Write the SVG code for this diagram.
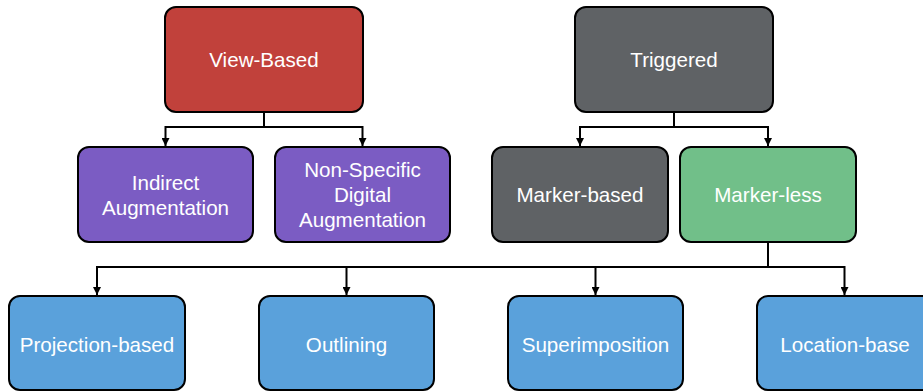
<svg xmlns="http://www.w3.org/2000/svg" width="923" height="392" viewBox="0 0 923 392">
  <defs>
    <marker id="arrow" viewBox="0 0 10 10" refX="10" refY="5" markerWidth="8" markerHeight="8" markerUnits="userSpaceOnUse" orient="auto">
      <path d="M0,0 L10,5 L0,10 Z" fill="#000"/>
    </marker>
    <style>
      .box { stroke: #000; stroke-width: 2; }
      .red { fill: #c1413b; }
      .purple { fill: #7b5cc3; }
      .gray { fill: #5f6265; }
      .green { fill: #71bf89; }
      .blue { fill: #5aa1db; }
      .label { font-family: "Liberation Sans", Arial, Helvetica, sans-serif; font-size: 20.6px; fill: #fff; text-anchor: middle; }
      .edge { fill: none; stroke: #000; stroke-width: 2; }
    </style>
  </defs>
  <rect width="923" height="392" fill="#fff"/>

  <!-- connectors -->
  <g id="connectors">
    <path class="edge" d="M264,112 V127 H165.5 V146" marker-end="url(#arrow)"/>
    <path class="edge" d="M264,127 H362.5 V146" marker-end="url(#arrow)"/>
    <path class="edge" d="M674,112 V127 H580 V146" marker-end="url(#arrow)"/>
    <path class="edge" d="M674,127 H768 V146" marker-end="url(#arrow)"/>
    <path class="edge" d="M768,242 V267 H97 V295" marker-end="url(#arrow)"/>
    <path class="edge" d="M768,267 H346.5 V295" marker-end="url(#arrow)"/>
    <path class="edge" d="M768,267 H595.5 V295" marker-end="url(#arrow)"/>
    <path class="edge" d="M768,267 H844.5 V295" marker-end="url(#arrow)"/>
  </g>

  <!-- top row -->
  <g id="view-based">
    <rect class="box red" x="165" y="7" width="198" height="105" rx="11"/>
    <text class="label" x="264" y="67">View-Based</text>
  </g>
  <g id="triggered">
    <rect class="box gray" x="575" y="7" width="198" height="105" rx="11"/>
    <text class="label" x="674" y="67">Triggered</text>
  </g>

  <!-- middle row -->
  <g id="indirect-augmentation">
    <rect class="box purple" x="78" y="147" width="175" height="95" rx="11"/>
    <text class="label" x="165.5" y="190">Indirect</text>
    <text class="label" x="165.5" y="215">Augmentation</text>
  </g>
  <g id="non-specific-digital-augmentation">
    <rect class="box purple" x="275" y="147" width="175" height="95" rx="11"/>
    <text class="label" x="362.5" y="177">Non-Specific</text>
    <text class="label" x="362.5" y="202">Digital</text>
    <text class="label" x="362.5" y="227">Augmentation</text>
  </g>
  <g id="marker-based">
    <rect class="box gray" x="492" y="147" width="176" height="95" rx="11"/>
    <text class="label" x="580" y="202">Marker-based</text>
  </g>
  <g id="marker-less">
    <rect class="box green" x="680" y="147" width="176" height="95" rx="11"/>
    <text class="label" x="768" y="202">Marker-less</text>
  </g>

  <!-- bottom row -->
  <g id="projection-based">
    <rect class="box blue" x="9" y="296" width="176" height="94" rx="11"/>
    <text class="label" x="97" y="352">Projection-based</text>
  </g>
  <g id="outlining">
    <rect class="box blue" x="259" y="296" width="175" height="94" rx="11"/>
    <text class="label" x="346.5" y="352">Outlining</text>
  </g>
  <g id="superimposition">
    <rect class="box blue" x="508" y="296" width="175" height="94" rx="11"/>
    <text class="label" x="595.5" y="352">Superimposition</text>
  </g>
  <g id="location-base">
    <rect class="box blue" x="757" y="296" width="176" height="94" rx="11"/>
    <text class="label" x="845" y="352">Location-base</text>
  </g>
</svg>
